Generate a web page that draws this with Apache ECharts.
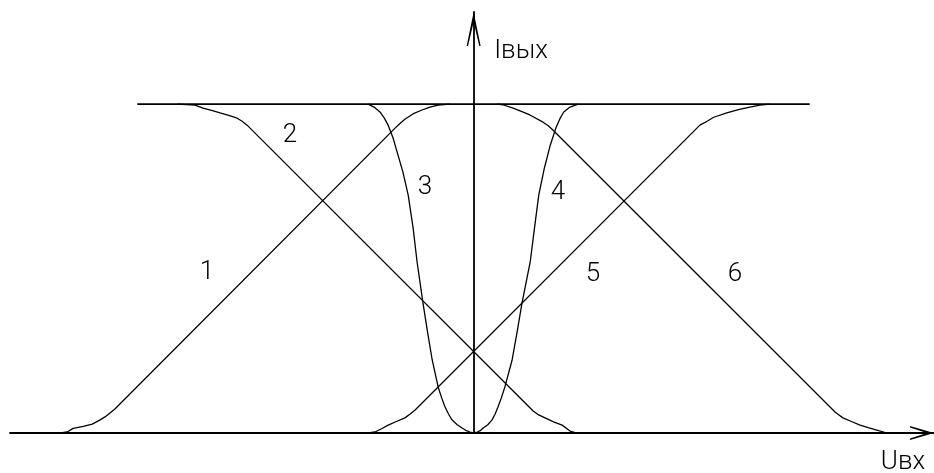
<!DOCTYPE html>
<html>
<head>
<meta charset="utf-8">
<title>Iвых(Uвх)</title>
<script src="https://cdn.jsdelivr.net/npm/echarts@6/dist/echarts.min.js"></script>
<style>
  html, body { margin: 0; padding: 0; background: #fff; }
  #chart { width: 934px; height: 473px; }
</style>
</head>
<body>
<div id="chart"></div>
<script>
// Output current vs. input voltage for six stages; currents saturate at 10 units.
const uRange = [-14.1, 14.0];
const iRange = [0, 12.8];
const saturation = 10;
const saturationSpan = [-10.23, 10.22];

// [Uвх, Iвых] pairs
const curve1 = [[-12.57, 0], [-12.36, 0.03], [-12.18, 0.14], [-11.87, 0.20], [-11.60, 0.27], [-11.36, 0.40],
                [-11.21, 0.49], [-11.06, 0.61], [-10.91, 0.73],
                [-2.39, 9.27], [-2.24, 9.41], [-2.09, 9.54], [-1.85, 9.70], [-1.57, 9.82], [-1.33, 9.91],
                [-1.08, 9.97], [-0.72, 10]];
const curve2 = [[-9.01, 10], [-8.47, 9.97], [-8.23, 9.88], [-7.97, 9.81], [-7.71, 9.73], [-7.45, 9.66],
                [-7.19, 9.57], [-7.04, 9.48], [-6.89, 9.36],
                [1.81, 0.67], [1.98, 0.55], [2.17, 0.46], [2.43, 0.34], [2.69, 0.24], [2.93, 0.06], [3.14, 0]];
const curve3 = [[-3.21, 10], [-3.03, 9.91], [-2.85, 9.76], [-2.72, 9.58], [-2.60, 9.36], [-2.45, 8.97],
                [-2.30, 8.45], [-2.15, 7.93], [-1.99, 7.23], [-1.84, 6.23], [-1.72, 5.20], [-1.54, 3.95],
                [-1.40, 3.06], [-1.26, 2.22], [-1.08, 1.40], [-0.97, 1.06], [-0.87, 0.79], [-0.76, 0.57],
                [-0.66, 0.40], [-0.50, 0.25], [-0.35, 0.15], [-0.22, 0.07], [-0.11, 0.03], [0, 0]];
const curve4 = [[0, 0], [0.11, 0.03], [0.20, 0.07], [0.29, 0.15], [0.43, 0.25], [0.56, 0.40], [0.65, 0.57],
                [0.74, 0.79], [0.84, 1.06], [0.95, 1.40], [1.17, 2.22], [1.32, 3.06], [1.47, 3.95],
                [1.72, 5.20], [1.85, 6.23], [1.98, 7.23], [2.15, 8.05], [2.33, 8.75], [2.50, 9.27],
                [2.62, 9.55], [2.74, 9.76], [2.93, 9.91], [3.18, 10]];
const curve5 = [[-3.21, 0], [-3.00, 0.03], [-2.80, 0.13], [-2.60, 0.24], [-2.35, 0.35], [-2.09, 0.46],
                [-1.93, 0.58], [-1.78, 0.70],
                [6.88, 9.36], [7.10, 9.48], [7.30, 9.60], [7.70, 9.73], [8.05, 9.83], [8.40, 9.91],
                [8.70, 9.97], [9.01, 10]];
const curve6 = [[0.71, 10], [0.89, 9.98], [1.20, 9.88], [1.45, 9.78], [1.71, 9.67], [2.11, 9.45],
                [2.27, 9.34], [2.41, 9.21],
                [10.99, 0.64], [11.11, 0.55], [11.23, 0.46], [11.49, 0.35], [11.75, 0.24], [12.00, 0.16],
                [12.26, 0.09], [12.57, 0]];

const curveNames = ['1', '2', '3', '4', '5', '6'];
const curves = [curve1, curve2, curve3, curve4, curve5, curve6];
const axisNames = { x: 'Uвх', y: 'Iвых' };

const ink = '#000';
const textFont = '300 26px Roboto, "Liberation Sans", sans-serif';

const chart = echarts.init(document.getElementById('chart'), null, { renderer: 'canvas' });

const curveSeries = curves.map((data, k) => ({
  name: curveNames[k],
  type: 'line',
  data: data,
  showSymbol: false,
  smooth: false,
  lineStyle: { color: ink, width: 1.3, join: 'round' },
  z: 3
}));

const levelSeries = {
  name: 'level',
  type: 'line',
  data: [[saturationSpan[0], saturation], [saturationSpan[1], saturation]],
  showSymbol: false,
  lineStyle: { color: ink, width: 1.8 },
  z: 2
};

function tag(text, x, y) {
  return {
    type: 'text', x: x, y: y, z: 10,
    style: { text: text, font: textFont, fill: ink, align: 'center', verticalAlign: 'middle' }
  };
}

chart.setOption({
  animation: false,
  backgroundColor: '#fff',
  grid: { left: 10, right: 0, top: 12, bottom: 40, containLabel: false },
  xAxis: {
    type: 'value', min: uRange[0], max: uRange[1],
    axisLine: {
      show: true, onZero: true,
      lineStyle: { color: ink, width: 1.8 },
      symbol: ['none', 'path://M7,0 L14,24 L12.6,24 L7,7 L1.4,24 L0,24 Z'],
      symbolSize: [14, 24],
      symbolOffset: [0, -12]
    },
    axisTick: { show: false }, axisLabel: { show: false }, splitLine: { show: false }
  },
  yAxis: {
    type: 'value', min: iRange[0], max: iRange[1],
    axisLine: {
      show: true, onZero: true,
      lineStyle: { color: ink, width: 1.8 },
      symbol: ['none', 'path://M7,0 L14,34 L12.6,34 L7,10 L1.4,34 L0,34 Z'],
      symbolSize: [14, 34],
      symbolOffset: [0, -17]
    },
    axisTick: { show: false }, axisLabel: { show: false }, splitLine: { show: false }
  },
  series: [levelSeries].concat(curveSeries),
  graphic: [
    tag(curveNames[0], 207, 272),
    tag(curveNames[1], 290, 135),
    tag(curveNames[2], 425, 187),
    tag(curveNames[3], 558, 192),
    tag(curveNames[4], 593, 274),
    tag(curveNames[5], 735, 274),
    tag(axisNames.y, 521, 51),
    tag(axisNames.x, 903, 462)
  ]
});
</script>
</body>
</html>
